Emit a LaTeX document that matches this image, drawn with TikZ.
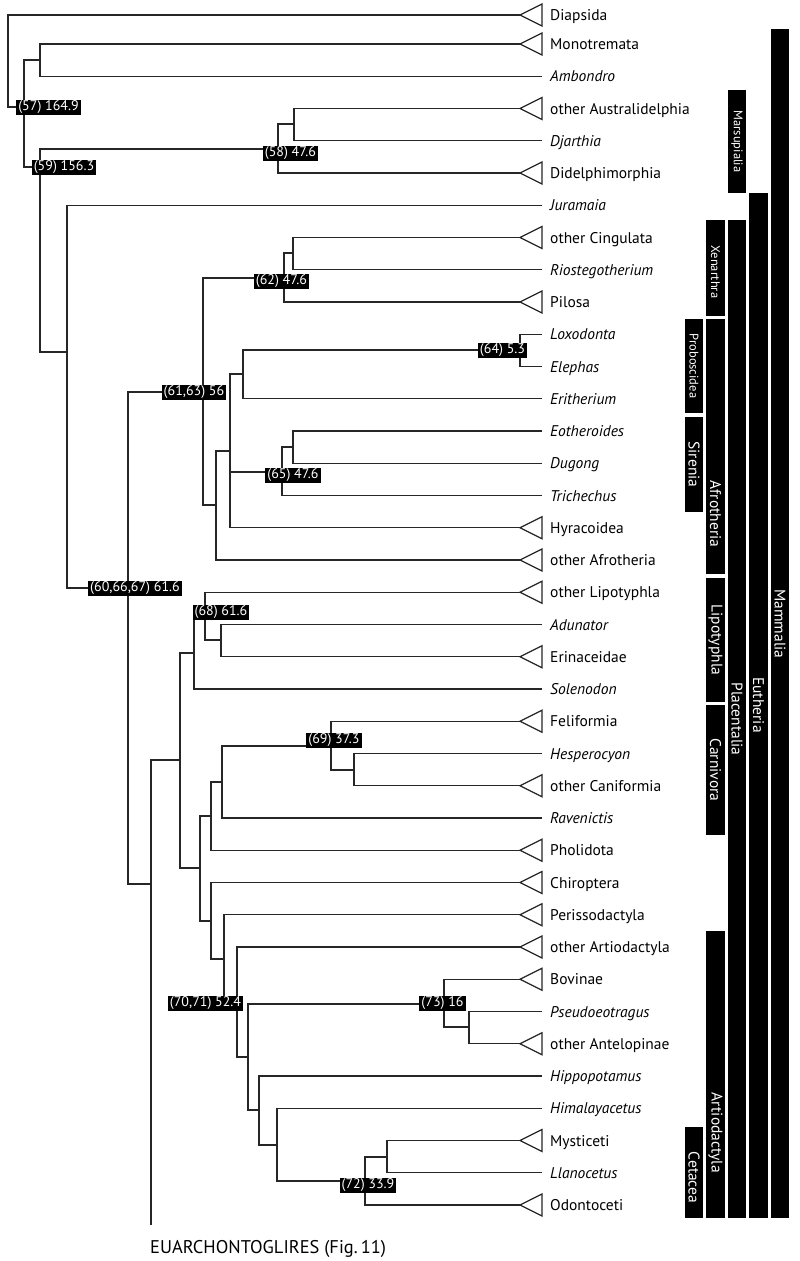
\documentclass[tikz,border=0pt]{standalone}
\usepackage{fontspec}
\setmainfont{PT Sans}
\newcommand\TipT[3]{%
  \coordinate (#1) at (520,#2);
  \draw[tri] (520,#2) -- (542,#2-11) -- (542,#2+11) -- cycle;
  \node[lab,anchor=base west] (#1l) at (550,#2+5.5) {#3};}
\newcommand\TipI[3]{%
  \coordinate (#1) at (542,#2);
  \node[ilab,anchor=base west] (#1l) at (550,#2+5.5) {#3};}
\newcommand\E[2]{\draw[br] (#1) |- (#2);}
\newcommand\Bar[6]{% name, x1, x2, y1, y2, ...
  \fill[black] (#2,#4) rectangle (#3,#5);
  \coordinate (#1) at ({(#2+#3)/2},{(#4+#5)/2});}
\begin{document}
\begin{tikzpicture}[x=1pt,y=-1pt,
  br/.style={line width=1.25pt, draw=black!85},
  tri/.style={line width=1.25pt, draw=black!85, fill=white, line join=miter},
  lab/.style={font=\fontsize{15.5}{16}\selectfont, inner sep=0pt},
  ilab/.style={font=\fontsize{15.5}{16}\selectfont\itshape, inner sep=0pt},
  nl/.style={fill=black, text=white, font=\fontsize{14}{14}\selectfont, inner xsep=2pt, inner ysep=0pt, text height=10.5pt, text depth=4.5pt},
  bt/.style={text=white, rotate=-90, font=\fontsize{15.5}{16}\selectfont, inner sep=0pt},
  bts/.style={text=white, rotate=-90, font=\fontsize{12.5}{13}\selectfont, inner sep=0pt}]
\useasboundingbox (0,0) rectangle (800,1261);

% tips
\TipT{t1}{15}{Diapsida}
\TipT{t2}{44}{Monotremata}
\TipI{t3}{76.25}{Ambondro}
\TipT{t4}{108.5}{other Australidelphia}
\TipI{t5}{140.75}{Djarthia}
\TipT{t6}{173}{Didelphimorphia}
\TipI{t7}{205.25}{Juramaia}
\TipT{t8}{237.5}{other Cingulata}
\TipI{t9}{269.75}{Riostegotherium}
\TipT{t10}{302}{Pilosa}
\TipI{t11}{334.25}{Loxodonta}
\TipI{t12}{366.5}{Elephas}
\TipI{t13}{398.75}{Eritherium}
\TipI{t14}{431}{Eotheroides}
\TipI{t15}{463.25}{Dugong}
\TipI{t16}{495.5}{Trichechus}
\TipT{t17}{527.75}{Hyracoidea}
\TipT{t18}{560}{other Afrotheria}
\TipT{t19}{592.25}{other Lipotyphla}
\TipI{t20}{624.5}{Adunator}
\TipT{t21}{656.75}{Erinaceidae}
\TipI{t22}{689}{Solenodon}
\TipT{t23}{721.25}{Feliformia}
\TipI{t24}{753.5}{Hesperocyon}
\TipT{t25}{785.75}{other Caniformia}
\TipI{t26}{818}{Ravenictis}
\TipT{t27}{850.25}{Pholidota}
\TipT{t28}{882.5}{Chiroptera}
\TipT{t29}{914.75}{Perissodactyla}
\TipT{t30}{947}{other Artiodactyla}
\TipT{t31}{979.25}{Bovinae}
\TipI{t32}{1011.5}{Pseudoeotragus}
\TipT{t33}{1043.75}{other Antelopinae}
\TipI{t34}{1076}{Hippopotamus}
\TipI{t35}{1108.25}{Himalayacetus}
\TipT{t36}{1140.5}{Mysticeti}
\TipI{t37}{1172.75}{Llanocetus}
\TipT{t38}{1205}{Odontoceti}

% internal nodes
\coordinate (n0) at (8,61);
\coordinate (n57) at (24,107);
\coordinate (nmo) at (40,60);
\coordinate (n59) at (40,167);
\coordinate (n58) at (278,149);
\coordinate (naus) at (294,124);
\coordinate (neu) at (67,352);
\coordinate (n60) at (128,588);
\coordinate (n61) at (203,392);
\coordinate (n62) at (284,278);
\coordinate (ncing) at (293,253);
\coordinate (naf) at (216,505);
\coordinate (naf2) at (230,451);
\coordinate (npe) at (243,374);
\coordinate (n64) at (520,350);
\coordinate (n65) at (282,472);
\coordinate (nsir) at (293,447);
\coordinate (nx) at (151,884);
\coordinate (eua) at (151,1225);
\coordinate (nla) at (180,760);
\coordinate (nlip) at (194,653);
\coordinate (n68) at (205,616);
\coordinate (nad) at (221,640);
\coordinate (nb) at (200,868);
\coordinate (nfer) at (211,816);
\coordinate (ncarn) at (222,782);
\coordinate (n69) at (331,746);
\coordinate (ncan) at (354,770);
\coordinate (nc) at (211,921);
\coordinate (nsc) at (224,959);
\coordinate (n70) at (237,1002);
\coordinate (nar) at (248,1057);
\coordinate (n73) at (444,1004);
\coordinate (nant) at (469,1027);
\coordinate (nwh) at (259,1110);
\coordinate (nce) at (277,1145);
\coordinate (n72) at (365,1181);
\coordinate (nmy) at (387,1157);

% branches
\E{n0}{t1}\E{n0}{n57}
\E{n57}{nmo}\E{n57}{n59}
\E{nmo}{t2}\E{nmo}{t3}
\E{n59}{n58}\E{n59}{neu}
\E{n58}{naus}\E{n58}{t6}
\E{naus}{t4}\E{naus}{t5}
\E{neu}{t7}\E{neu}{n60}
\E{n60}{n61}\E{n60}{nx}
\E{n61}{n62}\E{n61}{naf}
\E{n62}{ncing}\E{n62}{t10}
\E{ncing}{t8}\E{ncing}{t9}
\E{naf}{naf2}\E{naf}{t18}
\E{naf2}{npe}\E{naf2}{n65}\E{naf2}{t17}
\E{npe}{n64}\E{npe}{t13}
\E{n64}{t11}\E{n64}{t12}
\E{n65}{nsir}\E{n65}{t16}
\E{nsir}{t14}\E{nsir}{t15}
\E{nx}{nla}\E{nx}{eua}
\E{nla}{nlip}\E{nla}{nb}
\E{nlip}{n68}\E{nlip}{t22}
\E{n68}{t19}\E{n68}{nad}
\E{nad}{t20}\E{nad}{t21}
\E{nb}{nfer}\E{nb}{nc}
\E{nfer}{ncarn}\E{nfer}{t27}
\E{ncarn}{n69}\E{ncarn}{t26}
\E{n69}{t23}\E{n69}{ncan}
\E{ncan}{t24}\E{ncan}{t25}
\E{nc}{t28}\E{nc}{nsc}
\E{nsc}{t29}\E{nsc}{n70}
\E{n70}{t30}\E{n70}{nar}
\E{nar}{n73}\E{nar}{nwh}
\E{n73}{t31}\E{n73}{nant}
\E{nant}{t32}\E{nant}{t33}
\E{nwh}{t34}\E{nwh}{nce}
\E{nce}{t35}\E{nce}{n72}
\E{n72}{nmy}\E{n72}{t38}
\E{nmy}{t36}\E{nmy}{t37}

% node labels
\node[nl] (l57) at (48.5,107) {(57) 164.9};
\node[nl] (l59) at (64,167) {(59) 156.3};
\node[nl] (l58) at (290.5,153.5) {(58) 47.6};
\node[nl] (l62) at (281.5,281.5) {(62) 47.6};
\node[nl] (l61) at (194,392) {(61,63) 56};
\node[nl] (l64) at (502.5,350) {(64) 5.3};
\node[nl] (l65) at (293,475) {(65) 47.6};
\node[nl] (l60) at (135,588.5) {(60,66,67) 61.6};
\node[nl] (l68) at (221,612.5) {(68) 61.6};
\node[nl] (l69) at (334,740) {(69) 37.3};
\node[nl] (l70) at (205.5,1003.5) {(70,71) 52.4};
\node[nl] (l73) at (442.5,1003.5) {(73) 16};
\node[nl] (l72) at (368,1185) {(72) 33.9};

\node[font=\fontsize{18.4}{19}\selectfont, inner sep=0pt, anchor=base west] (euat) at (150,1253) {EUARCHONTOGLIRES (Fig.\,11)};

% clade bars
\Bar{bMam}{771}{789}{29}{1218}{}
\node[bt] (tMam) at (780,624) {Mammalia};
\Bar{bEut}{749}{768}{193}{1218}{}
\node[bt] (tEut) at (758.5,705) {Eutheria};
\Bar{bMar}{728}{746}{90}{193}{}
\node[bts] (tMar) at (737,141.5) {Marsupialia};
\Bar{bPla}{728}{746}{220}{1218}{}
\node[bt] (tPla) at (737,719) {Placentalia};
\Bar{bXen}{706}{725}{220}{316}{}
\node[bts] (tXen) at (715.5,272) {Xenarthra};
\Bar{bAfr}{706}{725}{319}{574}{}
\node[bt] (tAfr) at (715.5,514) {Afrotheria};
\Bar{bPro}{685}{703}{319}{413}{}
\node[bts] (tPro) at (694,366) {Proboscidea};
\Bar{bSir}{685}{703}{417}{512}{}
\node[bt] (tSir) at (694,464.5) {Sirenia};
\Bar{bLip}{706}{725}{578}{702}{}
\node[bt] (tLip) at (715.5,640) {Lipotyphla};
\Bar{bCar}{706}{725}{705}{835}{}
\node[bt] (tCar) at (715.5,770) {Carnivora};
\Bar{bArt}{706}{725}{931}{1218}{}
\node[bt] (tArt) at (715.5,1133) {Artiodactyla};
\Bar{bCet}{685}{703}{1127}{1218}{}
\node[bt] (tCet) at (694,1177.5) {Cetacea};
\end{tikzpicture}
\end{document}
